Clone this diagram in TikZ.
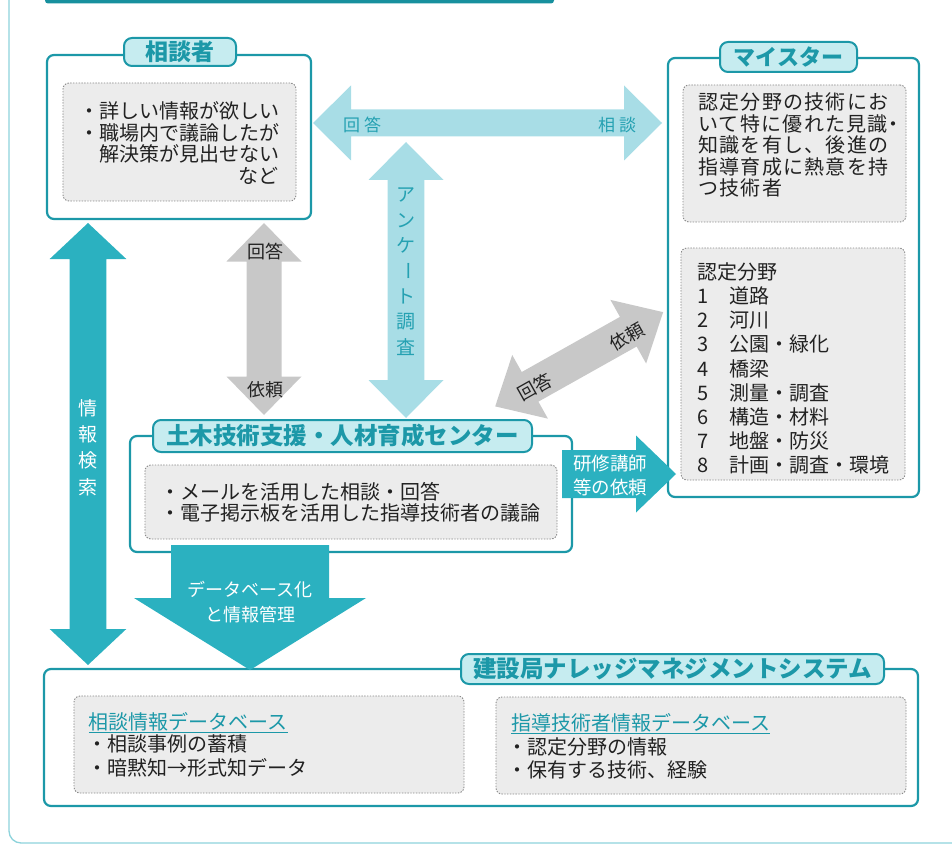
\documentclass[tikz,border=0pt]{standalone}
\usepackage{fontspec}
\setmainfont{Noto Sans CJK JP}
\newfontfamily\jpls{Noto Sans CJK JP}[LetterSpace=6.5]
\newcommand\jfs[1]{\fontsize{#1}{#1}\selectfont}
\definecolor{tealA}{HTML}{1C98A8}
\definecolor{tealD}{HTML}{17909E}
\definecolor{tabF}{HTML}{C6ECF0}
\definecolor{lightArr}{HTML}{A8DDE6}
\definecolor{darkArr}{HTML}{2BB1C0}
\definecolor{grayArr}{HTML}{C8C8C8}
\definecolor{boxG}{HTML}{ECECEC}
\definecolor{dashG}{HTML}{8A8A8A}
\definecolor{frameC}{HTML}{8DD3DB}
\definecolor{labT}{HTML}{25A1B2}
\definecolor{txtC}{HTML}{222222}
\tikzset{
  pics/dbl/.style args={#1/#2/#3/#4}{code={
    \fill (0,0) -- (#4,#3) -- (#4,#2) -- (#1-#4,#2) -- (#1-#4,#3) -- (#1,0)
      -- (#1-#4,-#3) -- (#1-#4,-#2) -- (#4,-#2) -- (#4,-#3) -- cycle;}},
  pics/sgl/.style args={#1/#2/#3/#4}{code={
    \fill (0,#2) -- (#1-#4,#2) -- (#1-#4,#3) -- (#1,0) -- (#1-#4,-#3)
      -- (#1-#4,-#2) -- (0,-#2) -- cycle;}},
  outerbox/.style={draw=tealA, line width=2.2pt, rounded corners=7pt, fill=white,
    inner sep=0pt, outer sep=0pt, anchor=north west},
  innerbox/.style={draw=dashG, line width=0.9pt, dash pattern=on 1.4pt off 1.4pt,
    rounded corners=6pt, fill=boxG, inner sep=0pt, outer sep=0pt, anchor=north west},
  tabbox/.style={draw=tealA, line width=2pt, rounded corners=8pt, fill=tabF,
    inner sep=0pt, outer sep=0pt},
  ttl/.style={text=tealA, font=\jfs{23}\bfseries, inner sep=0pt},
  ln/.style={anchor=base west, inner sep=0pt, text=txtC, font=\jfs{20}},
  lab/.style={inner sep=0pt, text=txtC, font=\jfs{18}},
}
\begin{document}
\begin{tikzpicture}[x=1pt,y=-1pt]
\useasboundingbox (0,0) rectangle (952,850);
% outer frame and top bar
\draw[frameC, line width=1.3pt, rounded corners=12pt] (9,-5) -- (9,843) -- (960,843);
\fill[tealD, rounded corners=3pt] (45,-10) rectangle (554,3.5);

% ---- boxes ----
\node[outerbox, minimum width=264pt, minimum height=164pt] (sodanBox) at (47,55) {};
\node[innerbox, minimum width=233pt, minimum height=118pt] (sodanIn) at (63,83) {};
\node[tabbox, minimum width=112pt, minimum height=28pt] (sodanTab) at (180,52) {};
\node[ttl] (sodanTtl) at (sodanTab) {相談者};

\node[outerbox, minimum width=251pt, minimum height=439pt] (meisterBox) at (668,58) {};
\node[innerbox, minimum width=223pt, minimum height=137pt] (meisterIn1) at (683,85) {};
\node[innerbox, minimum width=224pt, minimum height=232pt] (meisterIn2) at (681,248) {};
\node[tabbox, minimum width=137pt, minimum height=30pt] (meisterTab) at (788.5,57) {};
\node[ttl, font=\jfs{22}\bfseries] (meisterTtl) at (meisterTab) {マイスター};

\node[outerbox, minimum width=442pt, minimum height=116pt] (centerBox) at (130,436) {};
\node[innerbox, minimum width=412pt, minimum height=74pt] (centerIn) at (145,465) {};
\node[tabbox, minimum width=379pt, minimum height=32pt] (centerTab) at (342.5,436) {};
\node[ttl, font=\jfs{23.5}\bfseries] (centerTtl) at (centerTab) {土木技術支援・人材育成センター};

\node[outerbox, minimum width=874pt, minimum height=137pt] (kmsBox) at (44,669) {};
\node[innerbox, minimum width=390pt, minimum height=97pt] (kmsInL) at (74,696) {};
\node[innerbox, minimum width=410pt, minimum height=97pt] (kmsInR) at (496,697) {};
\node[tabbox, minimum width=423pt, minimum height=30pt] (kmsTab) at (672.5,669) {};
\node[ttl, font=\jfs{23.5}\bfseries] (kmsTtl) at (kmsTab) {建設局ナレッジマネジメントシステム};

% ---- block arrows ----
\pic[color=lightArr] at (313,123) {dbl=349/13.5/37.5/38};
\pic[color=lightArr, rotate=-90] at (406,142) {dbl=276/18.3/37.5/38};
\pic[color=grayArr, rotate=-90] at (264,223) {dbl=192/17.5/37.5/38.5};
\pic[color=darkArr, rotate=-90] at (88,223) {dbl=442/18.3/38.3/36};
\pic[color=grayArr, rotate=29.3] at (495.2,406.4) {dbl=192.6/17/36.5/40};
\pic[color=darkArr] at (562,474) {sgl=114/24/38.5/40};
\pic[color=darkArr, rotate=-90] at (250,545) {sgl=125/79/116/72};

% ---- texts: 相談者 ----
\node[ln] (s1) at (79,118.6) {・詳しい情報が欲しい};
\node[ln] (s2) at (79,140.3) {・職場内で議論したが};
\node[ln] (s3) at (99,162) {解決策が見出せない};
\node[ln, anchor=base east] (s4) at (279,183.7) {など};

% ---- マイスター ----
\node[ln, font=\jfs{20}\jpls] (m1) at (698,109.6) {認定分野の技術にお};
\node[ln, font=\jfs{20}\jpls] (m2) at (698,131.1) {いて特に優れた見識\makebox[6pt][l]{\hspace{-5pt}・}};
\node[ln, font=\jfs{20}\jpls] (m3) at (698,152.6) {知識を有し、後進の};
\node[ln, font=\jfs{20}\jpls] (m4) at (698,174.1) {指導育成に熱意を持};
\node[ln, font=\jfs{20}\jpls] (m5) at (698,195.6) {つ技術者};

\node[ln] (f0) at (697,279.6) {認定分野};
\foreach \t [count=\i] in {道路,河川,公園・緑化,橋梁,測量・調査,構造・材料,地盤・防災,計画・調査・環境}
  \node[ln] (f\i) at (697,279.6+24.1*\i) {\makebox[32pt][l]{\i}\t};

% ---- center ----
\node[ln] (c1) at (160,499.3) {・メールを活用した相談・回答};
\node[ln] (c2) at (160,520.9) {・電子掲示板を活用した指導技術者の議論};

% ---- KMS ----
\node[ln, text=tealA] (kl0) at (88.6,729.3) {\underline{相談情報データベース}};
\node[ln] (kl1) at (87,751.6) {・相談事例の蓄積};
\node[ln] (kl2) at (87,775.6) {・暗黙知→形式知データ};
\node[ln, text=tealA] (kr0) at (511,730.6) {\underline{指導技術者情報データベース}};
\node[ln] (kr1) at (507,754.3) {・認定分野の情報};
\node[ln] (kr2) at (507,777.6) {・保有する技術、経験};

% ---- arrow labels ----
\node[lab, text=labT, font=\jfs{17}] (hL) at (362,125) {回\hspace{4pt}答};
\node[lab, text=labT, font=\jfs{17}] (hR) at (617,125) {相\hspace{4pt}談};
\foreach \c [count=\i from 0] in {ア,ン,ケ,{\rotatebox[origin=c]{-90}{ー}},ト,調,査}
  \node[lab, text=labT, font=\jfs{19}] (q\i) at (406,195+25.3*\i) {\c};
\foreach \c [count=\i from 0] in {情,報,検,索}
  \node[lab, text=white, font=\jfs{19}] (j\i) at (88,408+26.3*\i) {\c};
\node[lab] (gU) at (265,252) {回答};
\node[lab] (gD) at (265,390) {依頼};
\node[lab, rotate=29.3] (dL) at (535,387) {回答};
\node[lab, rotate=29.3] (dR) at (627,337) {依頼};
\node[lab, text=white, font=\jfs{18.5}] (k1) at (610,463) {研修講師};
\node[lab, text=white, font=\jfs{18.5}] (k2) at (610,487) {等の依頼};
\node[lab, text=white, font=\jfs{18}] (d1) at (250,590) {データベース化};
\node[lab, text=white, font=\jfs{18}] (d2) at (250,615) {と情報管理};
\end{tikzpicture}
\end{document}
